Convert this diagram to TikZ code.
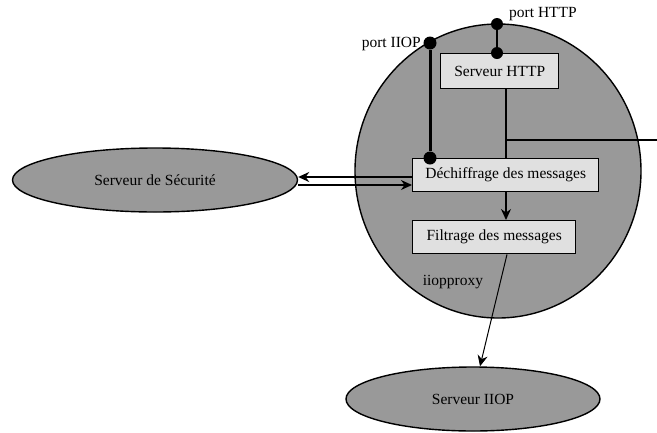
\documentclass[tikz,border=0pt]{standalone}
\usepackage{fontspec}
\setmainfont{Liberation Serif}
\usetikzlibrary{arrows.meta,shapes.geometric}
\definecolor{shade}{gray}{0.6}
\definecolor{boxfill}{gray}{0.88}
\tikzset{
  txt/.style={font=\fontsize{15.5}{18}\selectfont},
  proc/.style={draw, line width=1.4pt, fill=boxfill, minimum height=33pt, inner sep=0pt, anchor=north west, txt},
  server/.style={ellipse, draw, line width=1.4pt, fill=shade, inner sep=0pt, txt},
  portdot/.style={circle, fill=black, inner sep=0pt},
  lbl/.style={txt, inner sep=0pt},
  arr/.style={-{Stealth[length=11pt,width=10pt]}},
}
\begin{document}
\begin{tikzpicture}[x=1pt,y=-1pt]
\useasboundingbox (0,0) rectangle (657,432);
% proxy process area
\node[ellipse, draw, line width=1.4pt, fill=shade, minimum width=286pt, minimum height=294pt, inner sep=0pt] (proxy) at (498,171) {};
\node[lbl] (proxyname) at (453,282) {iiopproxy};

% external servers
\node[server, minimum width=285pt, minimum height=64pt] (secu) at (155,180) {Serveur de Sécurité};
\node[server, minimum width=254pt, minimum height=64pt] (iiop) at (473,399) {Serveur IIOP};

% internal stages
\node[proc, minimum width=118pt, minimum height=35pt] (http) at (440,53) {Serveur HTTP};
\node[proc, minimum width=186pt] (dechif) at (412,158) {Déchiffrage des messages};
\node[proc, minimum width=163pt] (filtre) at (412,220) {Filtrage des messages};

% ports
\node[portdot, minimum size=13pt] (piiop) at (430,43) {};
\node[portdot, minimum size=13pt] (piiopin) at (430,158) {};
\node[portdot, minimum size=12pt] (phttp) at (497,24) {};
\node[portdot, minimum size=12pt] (phttpin) at (497,53) {};
\node[lbl, anchor=east] (piiopl) at (421,44) {port IIOP};
\node[lbl, anchor=west] (phttpl) at (509,14) {port HTTP};

\draw[line width=3pt] (piiop) -- (piiopin);
\draw[line width=2.2pt] (phttp) -- (phttpin);

% HTTP server link
\coordinate (tap) at (506,140);
\coordinate (outside) at (657,140);
\draw[line width=1.4pt] (http.south -| tap) -- (dechif.north -| tap);
\draw[line width=1.4pt] (tap) -- (outside);

% security server exchanges
\draw[line width=2.6pt, arr] (dechif.west |- 0,177) -- (secu.east |- 0,177);
\draw[line width=1.4pt, arr] (secu.east |- 0,185) -- (dechif.west |- 0,185);

% message pipeline
\draw[line width=1.4pt, arr] (dechif.south -| tap) -- (filtre.north -| tap);
\draw[line width=1pt, arr] (filtre.south -| 507,0) -- (iiop.north -| 480,0);
\end{tikzpicture}
\end{document}
